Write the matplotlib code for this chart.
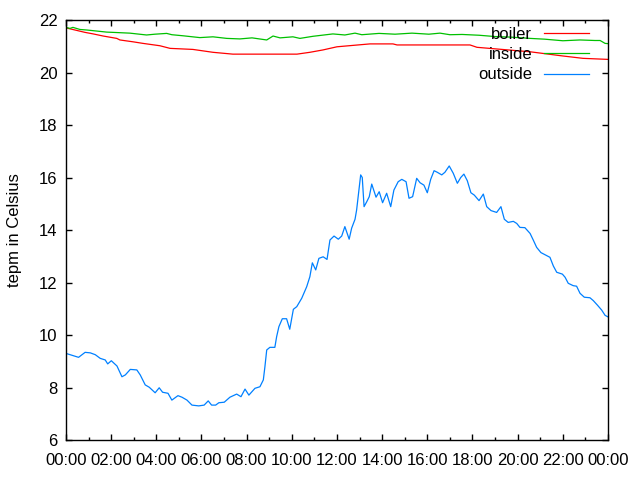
import matplotlib
matplotlib.use("Agg")
import matplotlib.pyplot as plt
from matplotlib.ticker import MultipleLocator, FuncFormatter

plt.rcParams['font.family'] = ['Liberation Sans', 'DejaVu Sans']
plt.rcParams['font.size'] = 12

# boiler (red), hours of day -> Celsius
boiler_h = [0, 0.4, 0.84, 1.21, 1.65, 2.25, 2.39, 2.97, 3.41, 4.16, 4.61, 5.62, 6.51,
            7.39, 10.23, 10.8, 11.38, 12.0, 13.46, 14.48, 14.66, 17.89, 18.2, 20.55,
            22.0, 22.89, 24.0]
boiler_t = [21.70, 21.62, 21.53, 21.47, 21.39, 21.30, 21.24, 21.17, 21.11, 21.02, 20.92,
            20.88, 20.77, 20.70, 20.70, 20.77, 20.86, 20.98, 21.09, 21.09, 21.05, 21.05,
            20.96, 20.79, 20.63, 20.54, 20.50]

# inside (green)
inside_h = [0, 0.18, 0.31, 0.62, 0.92, 1.8, 2.83, 3.57, 3.94, 4.46, 4.69, 5.18, 5.93,
            6.51, 7.12, 7.7, 8.24, 8.89, 9.17, 9.48, 10.05, 10.36, 10.94, 11.82, 12.35,
            12.8, 13.1, 13.86, 14.57, 15.32, 16.07, 16.56, 17.0, 17.54, 18.29, 19.0,
            19.66, 20.55, 21.2, 22.0, 22.76, 23.42, 23.65, 23.87, 24.0]
inside_t = [21.72, 21.68, 21.72, 21.64, 21.62, 21.54, 21.50, 21.43, 21.46, 21.49, 21.44,
            21.40, 21.33, 21.36, 21.30, 21.28, 21.32, 21.24, 21.39, 21.32, 21.36, 21.30,
            21.38, 21.47, 21.43, 21.50, 21.44, 21.49, 21.46, 21.50, 21.46, 21.50, 21.44,
            21.45, 21.42, 21.37, 21.35, 21.30, 21.27, 21.21, 21.24, 21.22, 21.22, 21.11,
            21.10]

# outside (blue)
outside_h = [0, 0.56, 0.85, 1.08, 1.30, 1.52, 1.74, 1.85, 2.01, 2.26, 2.48, 2.63, 2.85,
             3.14, 3.29, 3.51, 3.69, 3.95, 4.13, 4.28, 4.52, 4.69, 4.96, 5.14, 5.36,
             5.58, 5.88, 6.12, 6.30, 6.45, 6.63, 6.77, 7.01, 7.26, 7.56, 7.75, 7.93,
             8.10, 8.37, 8.59, 8.74, 8.81, 8.89, 9.03, 9.25, 9.33, 9.43, 9.58, 9.77,
             9.91, 10.07, 10.22, 10.44, 10.66, 10.80, 10.91, 11.06, 11.20, 11.39, 11.56,
             11.69, 11.87, 12.06, 12.21, 12.35, 12.54, 12.65, 12.80, 12.87, 12.94, 13.05,
             13.12, 13.20, 13.32, 13.43, 13.54, 13.73, 13.87, 14.02, 14.20, 14.38, 14.52,
             14.71, 14.87, 15.06, 15.19, 15.35, 15.53, 15.68, 15.85, 16.00, 16.15, 16.30,
             16.44, 16.64, 16.78, 16.97, 17.15, 17.33, 17.48, 17.62, 17.77, 17.93, 18.08,
             18.29, 18.48, 18.63, 18.82, 19.07, 19.26, 19.41, 19.58, 19.81, 19.96, 20.10,
             20.32, 20.55, 20.69, 20.84, 21.03, 21.21, 21.43, 21.58, 21.73, 21.98, 22.10,
             22.24, 22.46, 22.61, 22.76, 22.95, 23.20, 23.35, 23.54, 23.72, 23.87, 24.0]
outside_t = [9.30, 9.15, 9.34, 9.32, 9.25, 9.11, 9.05, 8.90, 9.02, 8.82, 8.41, 8.48, 8.69,
             8.67, 8.48, 8.10, 8.01, 7.80, 7.99, 7.82, 7.78, 7.52, 7.69, 7.63, 7.52,
             7.33, 7.30, 7.33, 7.49, 7.33, 7.33, 7.42, 7.44, 7.63, 7.75, 7.65, 7.94,
             7.71, 7.97, 8.03, 8.29, 8.79, 9.43, 9.53, 9.53, 9.94, 10.32, 10.62, 10.62,
             10.22, 10.98, 11.08, 11.40, 11.84, 12.22, 12.75, 12.48, 12.92, 12.98, 12.88,
             13.62, 13.77, 13.65, 13.77, 14.13, 13.65, 14.07, 14.41, 14.76, 15.27, 16.10,
             16.00, 14.89, 15.08, 15.27, 15.75, 15.25, 15.46, 15.04, 15.40, 14.89, 15.52,
             15.84, 15.93, 15.84, 15.21, 15.27, 15.97, 15.80, 15.71, 15.42, 15.93, 16.26,
             16.20, 16.10, 16.20, 16.44, 16.16, 15.78, 16.00, 16.13, 15.88, 15.42, 15.33,
             15.12, 15.37, 14.89, 14.74, 14.67, 14.89, 14.41, 14.29, 14.33, 14.25, 14.10,
             14.09, 13.87, 13.62, 13.34, 13.14, 13.06, 12.96, 12.63, 12.39, 12.32, 12.20,
             11.97, 11.88, 11.86, 11.59, 11.44, 11.42, 11.31, 11.13, 10.95, 10.75, 10.69]

fig = plt.figure(figsize=(6.4, 4.8), dpi=100)
ax = fig.add_axes([0.103, 0.0833, 0.847, 0.875])

ax.plot(boiler_h, boiler_t, color='#ff0000', lw=0.9, label='boiler')
ax.plot(inside_h, inside_t, color='#00c000', lw=0.9, label='inside')
ax.plot(outside_h, outside_t, color='#0080ff', lw=0.9, label='outside')

ax.set_xlim(0, 24)
ax.set_ylim(6, 22)
ax.xaxis.set_major_locator(MultipleLocator(2))
ax.xaxis.set_minor_locator(MultipleLocator(1))
ax.xaxis.set_major_formatter(FuncFormatter(lambda v, p: '%02d:00' % (int(round(v)) % 24)))
ax.yaxis.set_major_locator(MultipleLocator(2))
ax.tick_params(which='both', direction='in', top=True, right=True, width=1)
ax.tick_params(which='major', length=4.5, pad=6)
ax.tick_params(which='minor', length=2.5)
ax.tick_params(axis='x', pad=9)
for s in ax.spines.values():
    s.set_linewidth(1)

ax.set_ylabel('tepm in Celsius', labelpad=12)

ax.legend(loc='upper right', bbox_to_anchor=(0.977, 1.0), frameon=False,
          markerfirst=False, handlelength=2.7, handletextpad=0.7,
          labelspacing=0.32, borderaxespad=0)

fig.savefig('out.png', dpi=100)
